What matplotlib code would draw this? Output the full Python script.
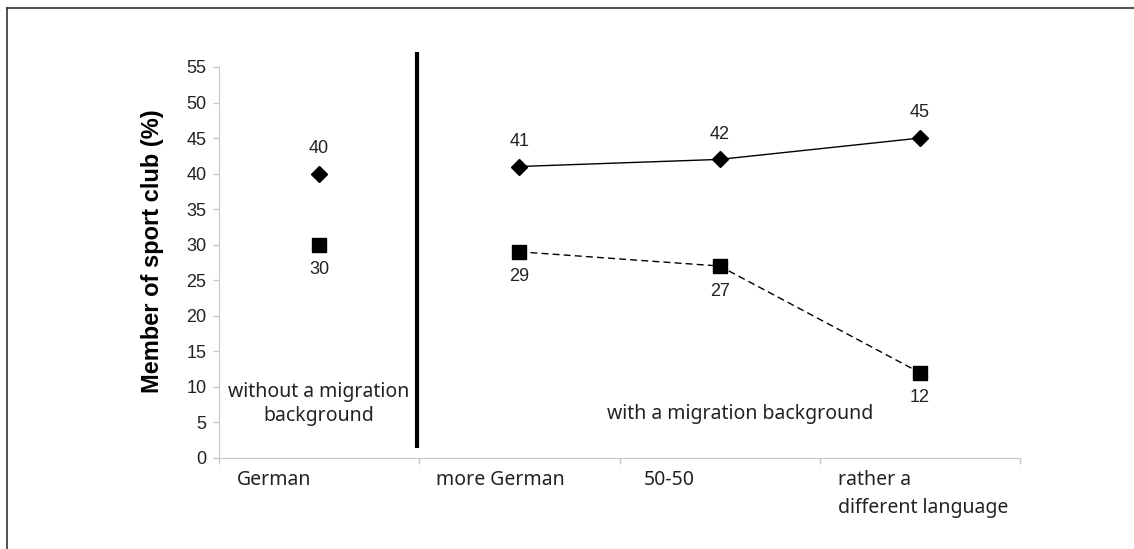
import matplotlib.pyplot as plt
from matplotlib.lines import Line2D

categories = ["German", "more German", "50-50", "rather a\ndifferent language"]
diamond_values = [40, 41, 42, 45]
square_values = [30, 29, 27, 12]
y_ticks = list(range(0, 60, 5))

NUM_FONT = "Liberation Sans"
CAT_FONT = "Noto Sans"

fig = plt.figure(figsize=(11.34, 5.49), dpi=100)
ax = fig.add_axes([0.1931, 0.1658, 0.7064, 0.7122])

x = list(range(len(categories)))

# German group stands alone, the migration groups are connected
ax.plot(x[1:], diamond_values[1:], color="black", lw=1.0, ls="-")
ax.plot(x[1:], square_values[1:], color="black", lw=1.0, ls=(0, (5, 3)))
ax.plot(x, diamond_values, ls="none", marker="D", ms=8, color="black")
ax.plot(x, square_values, ls="none", marker="s", ms=10, color="black")

for xi, v in zip(x, diamond_values):
    ax.annotate(str(v), (xi, v), xytext=(0, 12), textcoords="offset points",
                ha="center", va="bottom", fontsize=13, family=NUM_FONT,
                color="#222222")
for xi, v in zip(x, square_values):
    ax.annotate(str(v), (xi, v), xytext=(0, -12), textcoords="offset points",
                ha="center", va="top", fontsize=13, family=NUM_FONT,
                color="#222222")

ax.set_xlim(-0.5, 3.5)
ax.set_ylim(0, 55)
ax.set_yticks(y_ticks)
ax.set_yticklabels([str(t) for t in y_ticks], fontsize=13, family=NUM_FONT,
                   color="#222222")
ax.set_xticks([-0.5, 0.5, 1.5, 2.5, 3.5])
ax.set_xticklabels([])
ax.tick_params(axis="both", color="#c8c8c8", length=4, width=1)
ax.tick_params(axis="y", pad=5)

for side in ["top", "right"]:
    ax.spines[side].set_visible(False)
for side in ["left", "bottom"]:
    ax.spines[side].set_color("#c8c8c8")

# category labels under the axis
label_pos = [-0.41, 0.585, 1.62, 2.59]
for lx, lab in zip(label_pos, categories):
    ax.text(lx, -1.7, lab, ha="left", va="top", fontsize=14, family=CAT_FONT,
            color="#222222", linespacing=1.55)

ax.text(0, 7.6, "without a migration\nbackground", ha="center", va="center",
        fontsize=14, family=CAT_FONT, color="#222222", linespacing=1.25)
ax.text(2.1, 6.2, "with a migration background", ha="center", va="center",
        fontsize=14, family=CAT_FONT, color="#222222")

# divider between groups
ax.plot([0.49, 0.49], [1.4, 57.1], color="black", lw=3, clip_on=False,
        solid_capstyle="butt")

ax.set_ylabel("Member of sport club (%)", fontsize=17, fontweight="bold",
              family=NUM_FONT)
ax.yaxis.set_label_coords(-0.069, 0.53)

# frame line on top and left
fig.add_artist(Line2D([7 / 1134, 1], [1 - 8 / 549, 1 - 8 / 549],
                      transform=fig.transFigure, color="#333333", lw=1.2))
fig.add_artist(Line2D([7 / 1134, 7 / 1134], [0, 1 - 8 / 549],
                      transform=fig.transFigure, color="#333333", lw=1.2))

fig.savefig("out.png", dpi=100)
